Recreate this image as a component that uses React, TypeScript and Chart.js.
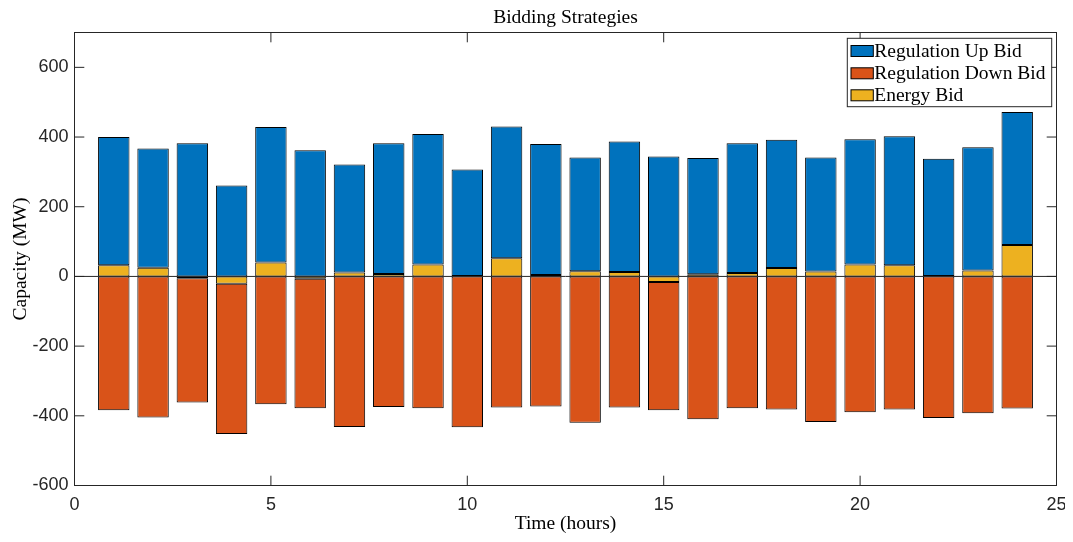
import React, { useEffect, useRef } from "react";
import { Chart, registerables } from "chart.js";

Chart.register(...registerables);

const hours = [1, 2, 3, 4, 5, 6, 7, 8, 9, 10, 11, 12, 13, 14, 15, 16, 17, 18, 19, 20, 21, 22, 23, 24];
const energyBid = [32, 25, -5, -21, 40, -7, 11, 7, 34, 1, 52, 4, 15, 13, -16, 6, 10, 24, 14, 34, 32, 1, 17, 90];
const regUpBid = [368, 342, 382, 261, 389, 362, 310, 375, 375, 306, 378, 376, 326, 374, 344, 334, 372, 368, 327, 360, 370, 337, 354, 382];
const regDownBid = [-384, -405, -357, -431, -367, -371, -432, -375, -378, -433, -376, -373, -420, -376, -368, -410, -378, -382, -418, -390, -382, -406, -393, -379];

const xTicks = [0, 5, 10, 15, 20, 25];
const yTicks = [-600, -400, -200, 0, 200, 400, 600];
const seriesLabels = ["Regulation Up Bid", "Regulation Down Bid", "Energy Bid"];
const seriesColors = ["#0072BD", "#D95319", "#EDB120"];
const titleText = "Bidding Strategies";
const xLabel = "Time (hours)";
const yLabel = "Capacity (MW)";

const SERIF = "'Liberation Serif', 'Times New Roman', serif";
const SANS = "'Liberation Sans', Arial, sans-serif";
const AXIS_COLOR = "#262626";

const framePlugin = {
  id: "matlabFrame",
  afterDatasetsDraw(chart: any) {
    const { ctx, chartArea: a, scales } = chart;
    const x = scales.x;
    const y = scales.y;
    ctx.save();
    ctx.strokeStyle = AXIS_COLOR;
    ctx.lineWidth = 1;
    const y0 = y.getPixelForValue(0);
    ctx.beginPath();
    ctx.moveTo(a.left, y0);
    ctx.lineTo(a.right, y0);
    ctx.stroke();
    ctx.strokeRect(a.left, a.top, a.right - a.left, a.bottom - a.top);
    const tl = 9.8;
    ctx.beginPath();
    xTicks.forEach((v) => {
      const px = x.getPixelForValue(v);
      ctx.moveTo(px, a.bottom);
      ctx.lineTo(px, a.bottom - tl);
      ctx.moveTo(px, a.top);
      ctx.lineTo(px, a.top + tl);
    });
    yTicks.forEach((v) => {
      const py = y.getPixelForValue(v);
      ctx.moveTo(a.left, py);
      ctx.lineTo(a.left + tl, py);
      ctx.moveTo(a.right, py);
      ctx.lineTo(a.right - tl, py);
    });
    ctx.stroke();
    ctx.restore();
  },
  afterDraw(chart: any) {
    const { ctx, chartArea: a } = chart;
    const cx = (a.left + a.right) / 2;
    const cy = (a.top + a.bottom) / 2;
    ctx.save();
    ctx.fillStyle = "#000";
    ctx.font = `19.5px ${SERIF}`;
    ctx.textAlign = "center";
    ctx.textBaseline = "middle";
    ctx.fillText(titleText, cx, 10.3);
    ctx.fillText(xLabel, cx, 515.5);
    ctx.save();
    ctx.translate(13, cy);
    ctx.rotate(-Math.PI / 2);
    ctx.fillText(yLabel, 0, 0);
    ctx.restore();

    // legend inside the axes, top-right
    const boxW = 204.4;
    const boxH = 68.4;
    const bx = a.right - 4.8 - boxW;
    const by = a.top + 5.8;
    ctx.fillStyle = "#fff";
    ctx.fillRect(bx, by, boxW, boxH);
    ctx.strokeStyle = AXIS_COLOR;
    ctx.lineWidth = 1;
    ctx.strokeRect(bx, by, boxW, boxH);
    const order = [1, 2, 0];
    const rowY = [12.7, 35, 57];
    order.forEach((dsIdx, i) => {
      const ds = chart.data.datasets[dsIdx];
      const ry = by + rowY[i];
      ctx.fillStyle = ds.backgroundColor;
      ctx.fillRect(bx + 3.7, ry - 5.5, 22.3, 11);
      ctx.strokeStyle = "#000";
      ctx.strokeRect(bx + 3.7, ry - 5.5, 22.3, 11);
      ctx.fillStyle = "#000";
      ctx.textAlign = "left";
      ctx.textBaseline = "middle";
      ctx.font = `19.5px ${SERIF}`;
      ctx.fillText(ds.label, bx + 27, ry + 1);
    });
    ctx.restore();
  },
};

export default function App() {
  const canvasRef = useRef<HTMLCanvasElement | null>(null);

  useEffect(() => {
    if (!canvasRef.current) return;
    const mk = (vals: number[]) => hours.map((h, i) => ({ x: h, y: vals[i] }));
    const common = {
      borderColor: "#000",
      borderWidth: 1,
      borderSkipped: false,
      barPercentage: 0.8,
      categoryPercentage: 1.0,
    };
    const chart = new Chart(canvasRef.current, {
      type: "bar",
      data: {
        datasets: [
          { label: seriesLabels[2], data: mk(energyBid), backgroundColor: seriesColors[2], ...common },
          { label: seriesLabels[0], data: mk(regUpBid), backgroundColor: seriesColors[0], ...common },
          { label: seriesLabels[1], data: mk(regDownBid), backgroundColor: seriesColors[1], ...common },
        ] as any,
      },
      options: {
        animation: false,
        responsive: true,
        maintainAspectRatio: false,
        layout: { padding: { top: 24.5, right: 16.5, bottom: 0, left: 0 } },
        plugins: {
          legend: { display: false },
          title: { display: false },
          tooltip: { enabled: false },
        },
        scales: {
          x: {
            type: "linear",
            stacked: true,
            min: 0,
            max: 25,
            offset: false,
            grid: { display: false, drawTicks: false },
            border: { display: false },
            afterBuildTicks: (scale: any) => {
              scale.ticks = xTicks.map((v) => ({ value: v }));
            },
            afterFit: (scale: any) => {
              scale.height = 48.5;
              scale.paddingLeft = 0;
              scale.paddingRight = 0;
            },
            ticks: {
              padding: 9,
              color: AXIS_COLOR,
              font: { family: SANS, size: 18 },
              maxRotation: 0,
              autoSkip: false,
            },
          },
          y: {
            type: "linear",
            stacked: true,
            min: -600,
            max: 700,
            grid: { display: false, drawTicks: false },
            border: { display: false },
            afterBuildTicks: (scale: any) => {
              scale.ticks = yTicks.map((v) => ({ value: v }));
            },
            afterFit: (scale: any) => {
              scale.width = 66.5;
              scale.paddingTop = 0;
              scale.paddingBottom = 0;
            },
            ticks: {
              padding: 6,
              color: AXIS_COLOR,
              font: { family: SANS, size: 18 },
            },
          },
        } as any,
      },
      plugins: [framePlugin],
    });
    return () => chart.destroy();
  }, []);

  return (
    <div style={{ position: "relative", width: "1065px", height: "526px" }}>
      <canvas ref={canvasRef} />
    </div>
  );
}
